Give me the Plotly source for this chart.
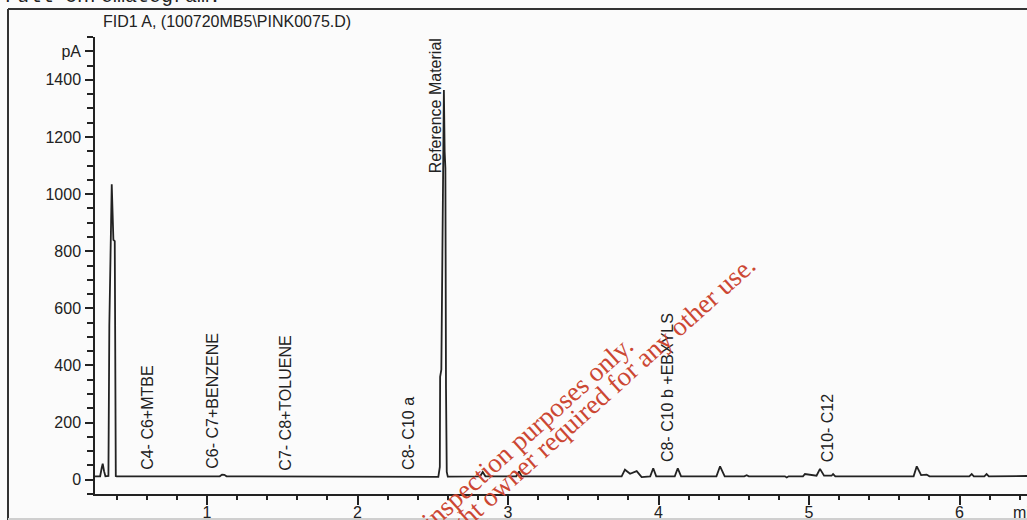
import plotly.graph_objects as go

# ---- data ----
time_min = [0.256, 0.290, 0.300, 0.307, 0.316, 0.325, 0.345, 0.351, 0.367, 0.372, 0.378, 0.387, 0.389, 0.394, 0.400,
            1.085, 1.100, 1.115, 1.130,
            2.530, 2.537, 2.547, 2.549, 2.557, 2.574, 2.579, 2.584, 2.588, 2.593, 2.600,
            2.815, 2.832, 2.850, 3.055, 3.073, 3.090,
            3.755, 3.777, 3.811, 3.855, 3.888, 3.945, 3.965, 3.985, 4.108, 4.128, 4.150,
            4.385, 4.409, 4.440, 4.570, 4.586, 4.600, 4.840, 4.852, 4.865, 4.960, 4.973,
            5.050, 5.073, 5.100, 5.150, 5.160, 5.175, 5.695, 5.716, 5.745, 5.782, 5.800,
            6.065, 6.081, 6.095, 6.165, 6.180, 6.195, 6.449]
signal_pA = [12, 12, 40, 56, 30, 12, 13, 540, 1034, 880, 840, 835, 155, 13, 12,
             12, 18, 17, 12,
             10, 10, 45, 360, 385, 1364, 1150, 1090, 320, 27, 11,
             12, 27, 12, 12, 29, 12,
             12, 35, 21, 30, 9, 12, 40, 12, 12, 40, 12,
             12, 47, 12, 12, 16, 12, 12, 8, 12, 12, 20,
             14, 38, 14, 14, 20, 12, 12, 47, 16, 18, 12,
             12, 20, 12, 12, 20, 12, 13]

label_text = ["C4- C6+MTBE", "C6- C7+BENZENE", "C7- C8+TOLUENE", "C8- C10 a",
              "Reference Material", "C8- C10 b +EBXYLS", "C10- C12"]
label_time = [0.605, 1.037, 1.524, 2.338, 2.515, 4.065, 5.123]
label_pA = [26, 30, 26, 27, 1064, 54, 54]

y_tickvals = [0, 200, 400, 600, 800, 1000, 1200, 1400, 1500]
y_ticktext = ["0", "200", "400", "600", "800", "1000", "1200", "1400", "pA"]
x_tickvals = [1, 2, 3, 4, 5, 6]

title_text = "FID1 A, (100720MB5\\PINK0075.D)"
header_text = "Full chromatogram:"
watermark_1 = "For inspection purposes only."
watermark_2 = "Consent of copyright owner required for any other use."

# ---- layout geometry (pixels) ----
W, H = 1027, 520
ML, MR, MT, MB = 95, 0, 37, 26
PW, PH = W - ML - MR, H - MT - MB


def pxx(px):
    return (px - ML) / PW


def pxy(py):
    return 1 - (py - MT) / PH


INK = "#222222"
FONT = "Liberation Sans, Arial, sans-serif"
SERIF = "Liberation Serif, Times New Roman, serif"

fig = go.Figure()
fig.add_trace(go.Scatter(x=time_min, y=signal_pA, mode="lines",
                         line=dict(color=INK, width=1.8), hoverinfo="skip",
                         showlegend=False))

annotations = []
for txt, t, v in zip(label_text, label_time, label_pA):
    annotations.append(dict(x=t, y=v, xref="x", yref="y", text=txt, textangle=-90,
                            xanchor="center", yanchor="bottom", showarrow=False,
                            font=dict(family=FONT, size=16, color=INK)))

annotations.append(dict(x=pxx(227), y=pxy(21), xref="paper", yref="paper", text=title_text,
                        showarrow=False, xanchor="center", yanchor="middle",
                        font=dict(family=FONT, size=16, color=INK)))
annotations.append(dict(x=pxx(1011), y=pxy(512), xref="paper", yref="paper", text="min",
                        showarrow=False, xanchor="left", yanchor="middle",
                        font=dict(family=FONT, size=16, color=INK)))
annotations.append(dict(x=pxx(3), y=pxy(-3), xref="paper", yref="paper", text=header_text,
                        showarrow=False, xanchor="left", yanchor="middle",
                        font=dict(family="Liberation Mono, Courier New, monospace", size=20, color=INK)))
annotations.append(dict(x=pxx(510.5), y=pxy(447.6), xref="paper", yref="paper", text=watermark_1,
                        showarrow=False, xanchor="center", yanchor="middle", textangle=-42,
                        font=dict(family=SERIF, size=27, color="#cc4733")))
annotations.append(dict(x=pxx(530.3), y=pxy(459.9), xref="paper", yref="paper", text=watermark_2,
                        showarrow=False, xanchor="center", yanchor="middle", textangle=-42,
                        font=dict(family=SERIF, size=27, color="#cc4733")))

shapes = [
    dict(type="line", xref="paper", yref="paper", x0=pxx(8), x1=pxx(8), y0=pxy(540), y1=pxy(9),
         line=dict(color="#333333", width=2)),
    dict(type="line", xref="paper", yref="paper", x0=pxx(8), x1=pxx(1040), y0=pxy(9), y1=pxy(9),
         line=dict(color="#333333", width=2)),
    dict(type="line", xref="paper", yref="paper", x0=pxx(8), x1=pxx(1040), y0=pxy(519), y1=pxy(519),
         line=dict(color="#cfcfcf", width=2)),
]

fig.update_layout(
    width=W, height=H,
    margin=dict(l=ML, r=MR, t=MT, b=MB, pad=0),
    paper_bgcolor="#fbfbfb", plot_bgcolor="#fbfbfb",
    showlegend=False,
    annotations=annotations,
    shapes=shapes,
    font=dict(family=FONT, size=16, color=INK),
)

fig.update_xaxes(range=[0.2558, 6.4485], automargin=False, showline=True, linecolor=INK, linewidth=1.5,
                 ticks="outside", ticklen=9, tickwidth=1.5, tickcolor=INK,
                 tickvals=x_tickvals, tickfont=dict(family=FONT, size=16, color=INK),
                 showgrid=False, zeroline=False, ticklabelstandoff=-6,
                 minor=dict(ticks="outside", dtick=0.2, tick0=0, ticklen=4, tickwidth=1.5,
                            tickcolor=INK, showgrid=False))
fig.update_yaxes(range=[-50, 1550], automargin=False, showline=True, linecolor=INK, linewidth=1.5,
                 ticks="outside", ticklen=8, tickwidth=1.5, tickcolor=INK,
                 tickvals=y_tickvals, ticktext=y_ticktext,
                 tickfont=dict(family=FONT, size=16, color=INK),
                 showgrid=False, zeroline=False, ticklabelstandoff=1,
                 minor=dict(ticks="outside", dtick=50, tick0=0, ticklen=6, tickwidth=1.5,
                            tickcolor=INK, showgrid=False))

fig.write_html("out.html", config={"displayModeBar": False},
               post_script="document.body.style.margin='0';document.body.style.overflow='hidden';")
